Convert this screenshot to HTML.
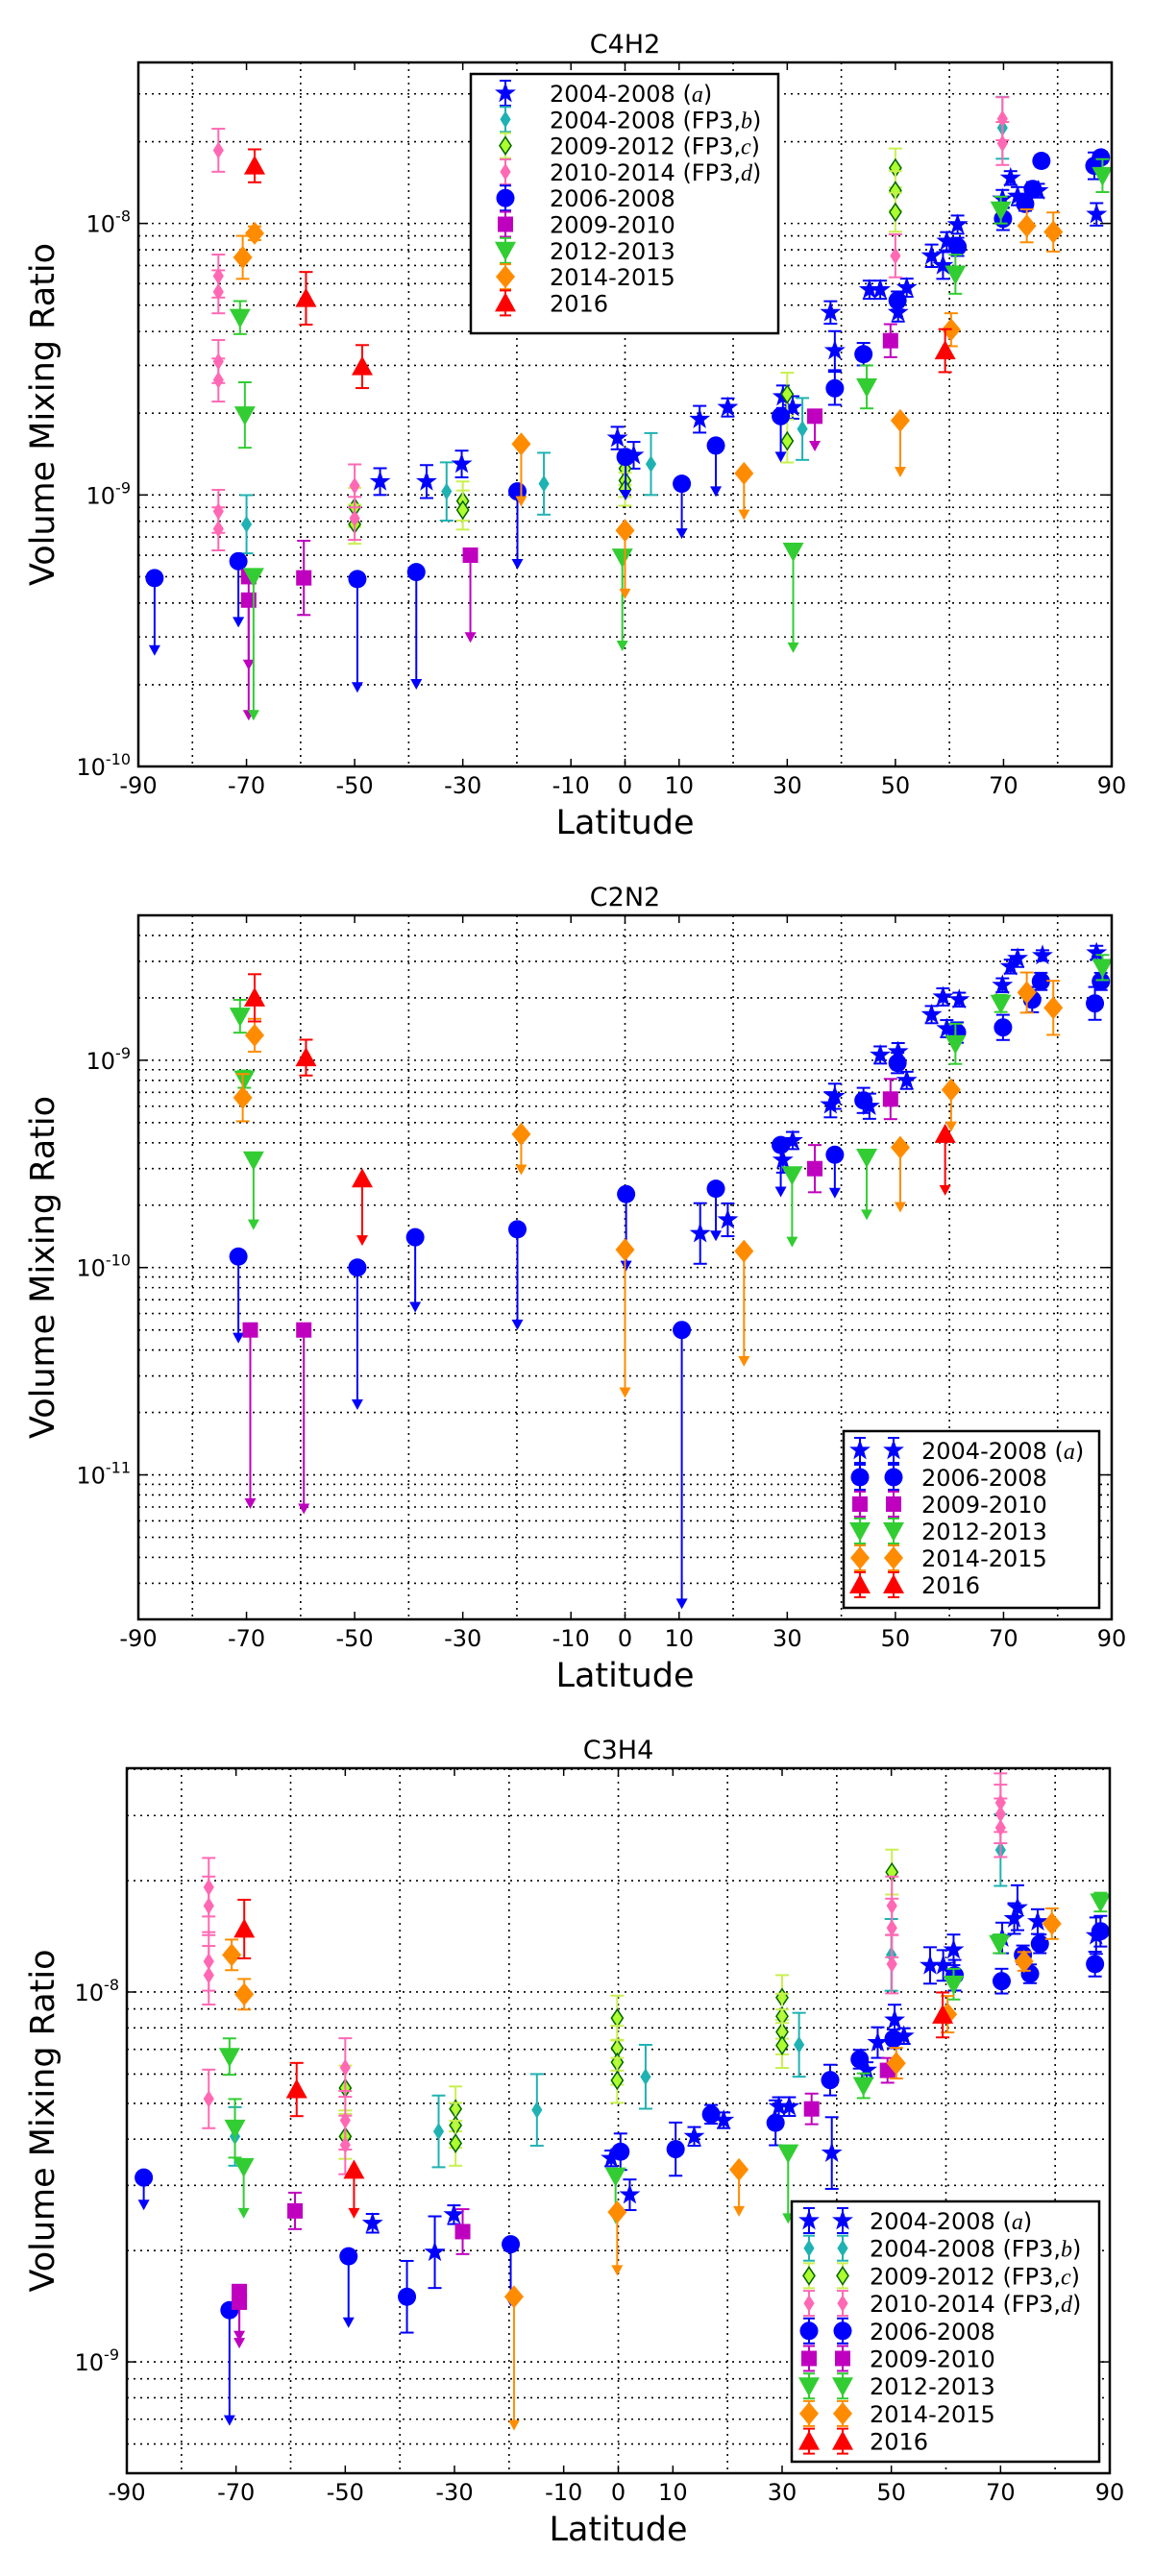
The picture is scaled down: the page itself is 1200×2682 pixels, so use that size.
<!DOCTYPE html>
<html><head><meta charset="utf-8"><style>
html,body{margin:0;padding:0;background:#fff;}
svg{display:block;font-family:"DejaVu Sans","Liberation Sans",sans-serif;}
</style></head><body>
<svg id="fig" width="1200" height="2682" viewBox="0 0 1200 2682" xmlns="http://www.w3.org/2000/svg"></svg>
<script>
// ---------- DATA: [latitude, value, relErr, upperLimitArrowTo] ----------
const xTickLabels = [-90,-70,-50,-30,-10,0,10,30,50,70,90];
const xGridLats = [-80,-60,-40,-20,0,20,40,60,80];
const seriesNames = ["2004-2008 (a)","2004-2008 (FP3,b)","2009-2012 (FP3,c)","2010-2014 (FP3,d)","2006-2008","2009-2010","2012-2013","2014-2015","2016"];

const c4h2_a = [[-45.3,1.12e-9,.12],[-36.7,1.12e-9,.15],[-30.2,1.3e-9,.12],[-1.4,1.62e-9,.1],[1.6,1.4e-9,.12],[13.8,1.9e-9,.12],[19,2.1e-9,.08],[29.2,2.3e-9,.1],[31,2.1e-9,.1],[38,4.7e-9,.1],[38.8,3.4e-9,.18],[45.2,5.7e-9,.08],[47.2,5.7e-9,.08],[50.5,4.7e-9,.08],[52.1,5.8e-9,.08],[56.7,7.6e-9,.1],[58.8,7e-9,.12],[59.5,8.6e-9,.08],[61.5,9.9e-9,.08],[69.8,1.23e-8,.08],[71.3,1.47e-8,.06],[72.6,1.26e-8,.08],[76.4,1.32e-8,.06],[87.2,1.08e-8,.1]];
const c4h2_b = [[-70,7.8e-10,.28],[-33,1.03e-9,.28],[-15,1.1e-9,.3],[4.8,1.3e-9,.3],[32.8,1.75e-9,.3],[69.8,2.25e-8,.3]];
const c4h2_c = [[-50,9e-10,.18],[-50,7.8e-10,.18],[-30,9.5e-10,.18],[-30,8.8e-10,.18],[0,1.25e-9,.15],[0,1.13e-9,.15],[0,1.05e-9,.15],[30,2.35e-9,.2],[30,1.58e-9,.2],[50,1.6e-8,.18],[50,1.32e-8,.18],[50,1.1e-8,.18]];
const c4h2_d = [[-75.2,1.86e-8,.2],[-75.2,6.4e-9,.2],[-75.2,5.6e-9,.2],[-75.2,3.1e-9,.2],[-75.2,2.65e-9,.2],[-75.2,8.7e-10,.2],[-75.2,7.5e-10,.2],[-50,1.08e-9,.2],[-50,8.2e-10,.2],[50,7.6e-9,.2],[69.8,2.43e-8,.2],[69.8,1.97e-8,.2]];
const c4h2_e = [[-87,4.94e-10,0,2.6e-10],[-71.5,5.7e-10,0,3.3e-10],[-49.5,4.9e-10,0,1.9e-10],[-38.6,5.2e-10,0,1.95e-10],[-19.9,1.03e-9,0,5.4e-10],[0.1,1.38e-9,0,9.7e-10],[10.5,1.1e-9,0,7e-10],[16.8,1.52e-9,0,1e-9],[28.8,1.95e-9,0,1.34e-9],[38.8,2.47e-9,.15],[44.1,3.3e-9,.1],[50.4,5.2e-9,.08],[61.5,8.2e-9,.08],[69.9,1.04e-8,.1],[74,1.18e-8,.06],[75.4,1.34e-8,.06],[77,1.7e-8,.05],[86.8,1.63e-8,.12],[88,1.75e-8,.05]];
const c4h2_f = [[-69.6,5e-10,0,2.3e-10],[-69.6,4.1e-10,0,1.5e-10],[-59.4,4.95e-10,.37],[-28.6,6e-10,0,2.9e-10],[35.1,1.95e-9,0,1.47e-9],[49.1,3.7e-9,.15]];
const c4h2_g = [[-71.2,4.5e-9,.15],[-70.3,1.97e-9,.32],[-68.7,5e-10,0,1.5e-10],[-0.5,5.9e-10,0,2.7e-10],[31.1,6.2e-10,0,2.66e-10],[44.7,2.5e-9,.2],[61.1,6.5e-9,.18],[69.5,1.12e-8,.12],[88.3,1.5e-8,.15]];
const c4h2_h = [[-70.7,7.5e-9,.2],[-68.5,9.2e-9,.06],[-19.2,1.54e-9,0,9.2e-10],[0,7.4e-10,0,4.2e-10],[22,1.2e-9,0,8.2e-10],[50.9,1.88e-9,0,1.18e-9],[60.3,4.06e-9,.15],[74.3,9.8e-9,.15],[79.2,9.3e-9,.18]];
const c4h2_i = [[-68.5,1.63e-8,.15],[-59,5.3e-9,.25],[-48.6,2.97e-9,.2],[59.2,3.4e-9,.2]];

const c2n2_a = [[13.9,1.46e-10,.4],[19,1.7e-10,.2],[29.2,3.3e-10,.15],[31,4.1e-10,.1],[38,6.1e-10,.15],[38.8,6.7e-10,.15],[45.2,6e-10,.15],[47.2,1.06e-9,.1],[50.5,1.1e-9,.1],[52.1,8e-10,.1],[56.7,1.66e-9,.1],[58.8,2.02e-9,.1],[59.5,1.42e-9,.1],[61.8,1.96e-9,.08],[69.8,2.3e-9,.08],[71.3,2.83e-9,.08],[72.6,3.1e-9,.1],[77.2,3.2e-9,.06],[87.2,3.3e-9,.08]];
const c2n2_e = [[-71.5,1.13e-10,0,4.4e-11],[-49.5,1e-10,0,2.1e-11],[-38.8,1.4e-10,0,6.2e-11],[-19.9,1.53e-10,0,5.1e-11],[0.2,2.26e-10,0,9.8e-11],[10.5,5e-11,0,2.3e-12],[16.8,2.4e-10,0,1.37e-10],[28.8,3.9e-10,0,2.23e-10],[38.8,3.5e-10,0,2.2e-10],[44.1,6.4e-10,.15],[50.4,9.7e-10,.12],[61.4,1.36e-9,.12],[69.9,1.44e-9,.15],[75.3,1.96e-9,.15],[76.9,2.4e-9,.1],[86.9,1.88e-9,.2],[88,2.4e-9,.1]];
const c2n2_f = [[-69.3,5e-11,0,7e-12],[-59.4,5e-11,0,6.6e-12],[35.1,3e-10,.3],[49.1,6.5e-10,.25]];
const c2n2_g = [[-71.2,1.63e-9,.2],[-70.4,8.1e-10,.1],[-68.7,3.3e-10,0,1.55e-10],[30.9,2.8e-10,0,1.28e-10],[44.7,3.4e-10,0,1.73e-10],[61.1,1.2e-9,.25],[69.5,1.88e-9,.1],[88.3,2.8e-9,.15]];
const c2n2_h = [[-70.7,6.6e-10,.3],[-68.5,1.32e-9,.2],[-19.2,4.4e-10,0,2.85e-10],[0,1.22e-10,0,2.4e-11],[22,1.2e-10,0,3.4e-11],[50.9,3.8e-10,0,1.88e-10],[60.3,7.2e-10,0,4.6e-10],[74.3,2.12e-9,.25],[79.2,1.79e-9,.35]];
const c2n2_i = [[-68.5,2e-9,.3],[-59,1.03e-9,.22],[-48.6,2.68e-10,0,1.3e-10],[59.2,4.4e-10,0,2.27e-10]];

const c3h4_a = [[-45,2.37e-9,.06],[-33.6,1.98e-9,.25],[-30.1,2.5e-9,.06],[-1.3,3.55e-9,.05],[2.1,2.83e-9,.1],[13.9,4.07e-9,.06],[19.3,4.5e-9,.05],[29.4,4.9e-9,.06],[31.3,4.9e-9,.06],[39.1,3.67e-9,.25],[45.5,6.15e-9,.05],[47.5,7.3e-9,.1],[50.6,8.4e-9,.1],[52.3,7.6e-9,.05],[57.1,1.18e-8,.12],[59.5,1.18e-8,.1],[61.4,1.3e-8,.1],[70.3,1.4e-8,.1],[72.5,1.58e-8,.1],[73.1,1.69e-8,.15],[76.8,1.55e-8,.08],[87.5,1.42e-8,.12]];
const c3h4_b = [[-70.2,4.07e-9,.2],[-32.9,4.2e-9,.25],[-14.9,4.8e-9,.25],[5,5.9e-9,.22],[33.1,7.2e-9,.22],[50,1.26e-8,.25],[70,2.42e-8,.25]];
const c3h4_c = [[-50,5.5e-9,.15],[-50,4.07e-9,.15],[-29.8,4.83e-9,.15],[-29.8,4.36e-9,.15],[-29.8,3.9e-9,.15],[-0.2,8.5e-9,.15],[-0.2,7.05e-9,.15],[-0.2,6.46e-9,.15],[-0.2,5.77e-9,.15],[30,9.66e-9,.15],[30,8.6e-9,.15],[30,7.8e-9,.15],[30,7.17e-9,.15],[50.1,2.11e-8,.15]];
const c3h4_d = [[-75,1.92e-8,.2],[-75,1.71e-8,.2],[-75,1.21e-8,.2],[-75,1.11e-8,.2],[-75,5.14e-9,.2],[-50,6.25e-9,.2],[-50,4.5e-9,.2],[-50,3.86e-9,.2],[50.1,1.71e-8,.2],[50.1,1.49e-8,.2],[50.1,1.19e-8,.2],[70,3.25e-8,.2],[70,3.03e-8,.2],[70,2.78e-8,.2]];
const c3h4_e = [[-86.9,3.15e-9,0,2.6e-9],[-71.2,1.38e-9,0,6.8e-10],[-49.4,1.93e-9,0,1.25e-9],[-38.7,1.5e-9,.25],[-19.7,2.08e-9,0,1.43e-9],[0.4,3.7e-9,.12],[10.5,3.76e-9,.18],[17,4.67e-9,.06],[28.8,4.43e-9,.15],[38.8,5.78e-9,.1],[44.2,6.58e-9,.06],[50.4,7.47e-9,.06],[61.6,1.11e-8,.1],[70.2,1.07e-8,.08],[74.1,1.26e-8,.06],[75.4,1.12e-8,.06],[77.2,1.35e-8,.06],[87.3,1.19e-8,.08],[88.3,1.46e-8,.1]];
const c3h4_f = [[-69.4,1.55e-9,0,1.15e-9],[-69.4,1.45e-9,0,1.1e-9],[-59.2,2.56e-9,.12],[-28.5,2.25e-9,.15],[35.4,4.83e-9,.1],[49.3,6.14e-9,.08]];
const c3h4_g = [[-71.2,6.69e-9,.12],[-70.2,4.28e-9,.2],[-68.6,3.37e-9,0,2.47e-9],[-0.5,3.18e-9,0,2.39e-9],[31.1,3.67e-9,0,2.39e-9],[44.9,5.58e-9,.08],[61.4,1.05e-8,.1],[69.8,1.35e-8,.06],[88.3,1.75e-8,.06]];
const c3h4_h = [[-70.8,1.26e-8,.1],[-68.5,9.86e-9,.1],[-19.1,1.5e-9,0,6.6e-10],[-0.2,2.54e-9,0,1.73e-9],[22.1,3.31e-9,0,2.5e-9],[50.9,6.42e-9,.1],[60.3,8.71e-9,.12],[74.3,1.21e-8,.06],[79.4,1.53e-8,.1]];
const c3h4_i = [[-68.5,1.48e-8,.2],[-58.9,5.45e-9,.18],[-48.4,3.3e-9,0,2.47e-9],[59.4,8.67e-9,.15]];

// ---------- STYLE ----------
const NS="http://www.w3.org/2000/svg";
const svg=document.getElementById('fig');
const STY={
 a:{m:'star',fill:'#0000ff',stroke:'#0000ff',err:'#0000ff'},
 b:{m:'sdiam',fill:'#20b2b2',stroke:'#20b2b2',err:'#20b2b2'},
 c:{m:'cdiam',fill:'#adff2f',stroke:'#006400',err:'#c8f050'},
 d:{m:'sdiam',fill:'#ff69b4',stroke:'#ff69b4',err:'#ff69b4'},
 e:{m:'circle',fill:'#0000ff',stroke:'#0000ff',err:'#0000ff'},
 f:{m:'square',fill:'#bf00bf',stroke:'#bf00bf',err:'#bf00bf'},
 g:{m:'vtri',fill:'#32cd32',stroke:'#32cd32',err:'#32cd32'},
 h:{m:'diam',fill:'#ff8c00',stroke:'#ff8c00',err:'#ff8c00'},
 i:{m:'tri',fill:'#ff0000',stroke:'#ff0000',err:'#ff0000'}
};
function el(tag,attrs,parent){const e=document.createElementNS(NS,tag);for(const k in attrs)e.setAttribute(k,attrs[k]);(parent||svg).appendChild(e);return e;}

function marker(g,type,x,y,s){
 let e;
 if(type==='star'){let p=[];for(let i=0;i<10;i++){const r=i%2?4:10;const a=-Math.PI/2+i*Math.PI/5;p.push((x+r*Math.cos(a)).toFixed(1)+','+(y+r*Math.sin(a)).toFixed(1));}
   e=el('polygon',{points:p.join(' '),fill:s.fill,stroke:s.stroke,'stroke-width':1},g);}
 else if(type==='sdiam'){e=el('polygon',{points:`${x},${y-8} ${x+5},${y} ${x},${y+8} ${x-5},${y}`,fill:s.fill,stroke:s.stroke,'stroke-width':1},g);}
 else if(type==='cdiam'){e=el('polygon',{points:`${x},${y-9} ${x+6},${y} ${x},${y+9} ${x-6},${y}`,fill:s.fill,stroke:s.stroke,'stroke-width':1.5},g);}
 else if(type==='circle'){e=el('circle',{cx:x,cy:y,r:9.5,fill:s.fill},g);}
 else if(type==='square'){e=el('rect',{x:x-8,y:y-8,width:16,height:16,fill:s.fill},g);}
 else if(type==='vtri'){e=el('polygon',{points:`${x-11},${y-9} ${x+11},${y-9} ${x},${y+11}`,fill:s.fill},g);}
 else if(type==='tri'){e=el('polygon',{points:`${x-11},${y+9} ${x+11},${y+9} ${x},${y-11}`,fill:s.fill},g);}
 else if(type==='diam'){e=el('polygon',{points:`${x},${y-12} ${x+10},${y} ${x},${y+12} ${x-10},${y}`,fill:s.fill},g);}
 
 
}

function panel(cfg){
 const {L,R,T,B,lmin,lmax,title,ylabels,series,legend,tickY,latY,titleY,ylabX}=cfg;
 const X=lat=>L+(lat+90)/180*(R-L);
 const Y=v=>B-(Math.log10(v)-lmin)/(lmax-lmin)*(B-T);
 const g=el('g',{});
 
 
 // grid
 const grid=el('g',{stroke:'#000','stroke-width':1.6,'stroke-dasharray':'2,5'},g);
 
 
 xGridLats.forEach(lat=>el('line',{x1:X(lat),x2:X(lat),y1:T,y2:B},grid));
 for(let d=Math.floor(lmin);d<=Math.ceil(lmax);d++){for(let k=1;k<=9;k++){const v=k*Math.pow(10,d);const lv=Math.log10(v);if(lv<=lmin+1e-6||lv>=lmax)continue;el('line',{x1:L,x2:R,y1:Y(v),y2:Y(v)},grid);}}
 // ticks
 xTickLabels.forEach(lat=>{el('line',{x1:X(lat),x2:X(lat),y1:B,y2:B-8,stroke:'#000','stroke-width':1.5},g);el('line',{x1:X(lat),x2:X(lat),y1:T,y2:T+8,stroke:'#000','stroke-width':1.5},g);
   const t=el('text',{x:X(lat),y:tickY,'font-size':24,'text-anchor':'middle'},g);t.textContent=lat;
   
   });
 ylabels.forEach(d=>{const y=Y(Math.pow(10,d));el('line',{x1:L,x2:L+10,y1:y,y2:y,stroke:'#000','stroke-width':1.5},g);el('line',{x1:R,x2:R-10,y1:y,y2:y,stroke:'#000','stroke-width':1.5},g);
   const t=el('text',{x:L-8,y:y+9,'font-size':24,'text-anchor':'end'},g);
   
   
   const t1=el('tspan',{},t);t1.textContent='10';const t2=el('tspan',{'font-size':16,dy:-11},t);t2.textContent=String(d);});
 // series
 const keys=['a','b','c','d','e','f','g','h','i'];
 keys.forEach(k=>{const data=series[k];if(!data)return;const s=STY[k];
  const sg=el('g',{},g);
  
  
  data.forEach(p=>{const x=X(p[0]),y=Y(p[1]);
   if(p[3]){const ya=Y(p[3]);el('line',{x1:x,x2:x,y1:y,y2:ya-6,stroke:s.err,'stroke-width':2},sg);
     el('polygon',{points:`${x-6},${ya-9} ${x+6},${ya-9} ${x},${ya+2}`,fill:s.err},sg);}
   else if(p[2]){const y1=Y(p[1]*(1+p[2])),y2=Y(p[1]/(1+p[2]));
     el('line',{x1:x,x2:x,y1:y1,y2:y2,stroke:s.err,'stroke-width':2},sg);
     el('line',{x1:x-7,x2:x+7,y1:y1,y2:y1,stroke:s.err,'stroke-width':2},sg);
     el('line',{x1:x-7,x2:x+7,y1:y2,y2:y2,stroke:s.err,'stroke-width':2},sg);}
   marker(sg,s.m,x,y,s);});
 });
 // frame
 const fr=el('rect',{x:L,y:T,width:R-L,height:B-T,fill:'none',stroke:'#000','stroke-width':2.5},g);
 
 
 // title & labels
 const tt=el('text',{x:(L+R)/2,y:titleY,'font-size':27,'text-anchor':'middle'},g);tt.textContent=title;
 
 
 const xl=el('text',{x:(L+R)/2,y:latY,'font-size':35,'text-anchor':'middle'},g);xl.textContent='Latitude';
 
 
 const cy=(T+B)/2;
 const yl=el('text',{x:ylabX,y:cy,'font-size':35,'text-anchor':'middle',transform:`rotate(-90 ${ylabX} ${cy})`},g);yl.textContent='Volume Mixing Ratio';
 
 
 // legend
 const lg=el('g',{},g);
 
 
 el('rect',{x:legend.x,y:legend.y,width:legend.w,height:legend.h,fill:'#fff',stroke:'#000','stroke-width':2.5},lg);
 legend.keys.forEach((k,i)=>{const cyy=legend.y0+i*legend.dy;const s=STY[k];
  const eg=el('g',{},lg);
  
  
  legend.mx.forEach(mx=>{el('line',{x1:mx,x2:mx,y1:cyy-13,y2:cyy+13,stroke:s.err,'stroke-width':2},eg);
    el('line',{x1:mx-6,x2:mx+6,y1:cyy-13,y2:cyy-13,stroke:s.err,'stroke-width':2},eg);
    el('line',{x1:mx-6,x2:mx+6,y1:cyy+13,y2:cyy+13,stroke:s.err,'stroke-width':2},eg);
    marker(eg,s.m,mx,cyy,s);});
  const name=seriesNames['abcdefghi'.indexOf(k)];
  const t=el('text',{x:legend.tx,y:cyy+9,'font-size':24},eg);
  const m=name.match(/^(.*[(,])([a-d])\)$/);
  if(m){const a=el('tspan',{},t);a.textContent=m[1];const b=el('tspan',{'font-style':'italic','font-family':'"Liberation Serif",serif'},t);b.textContent=m[2];const c=el('tspan',{},t);c.textContent=')';}
  else t.textContent=name;
 });
}

panel({name:'c4h2-chart',L:144,R:1157,T:65,B:798,lmin:-10,lmax:-7.407,title:'C4H2',ylabels:[-10,-9,-8],
 tickY:826,latY:868,titleY:55,ylabX:56,
 series:{a:c4h2_a,b:c4h2_b,c:c4h2_c,d:c4h2_d,e:c4h2_e,f:c4h2_f,g:c4h2_g,h:c4h2_h,i:c4h2_i},
 legend:{x:490,y:77,w:320,h:270,y0:97,dy:27.3,mx:[526],tx:572,keys:['a','b','c','d','e','f','g','h','i']}});
panel({name:'c2n2-chart',L:144,R:1157,T:953,B:1686,lmin:-11.697,lmax:-8.301,title:'C2N2',ylabels:[-11,-10,-9],
 tickY:1714,latY:1756,titleY:943,ylabX:56,
 series:{a:c2n2_a,e:c2n2_e,f:c2n2_f,g:c2n2_g,h:c2n2_h,i:c2n2_i},
 legend:{x:878,y:1490,w:266,h:184,y0:1510,dy:28,mx:[895,930],tx:959,keys:['a','e','f','g','h','i']}});
panel({name:'c3h4-chart',L:132,R:1155,T:1841,B:2575,lmin:-9.301,lmax:-7.395,title:'C3H4',ylabels:[-9,-8],
 tickY:2603,latY:2645,titleY:1831,ylabX:56,
 series:{a:c3h4_a,b:c3h4_b,c:c3h4_c,d:c3h4_d,e:c3h4_e,f:c3h4_f,g:c3h4_g,h:c3h4_h,i:c3h4_i},
 legend:{x:824,y:2292,w:320,h:271,y0:2312,dy:28.7,mx:[842,877],tx:905,keys:['a','b','c','d','e','f','g','h','i']}});
</script>
</body></html>
